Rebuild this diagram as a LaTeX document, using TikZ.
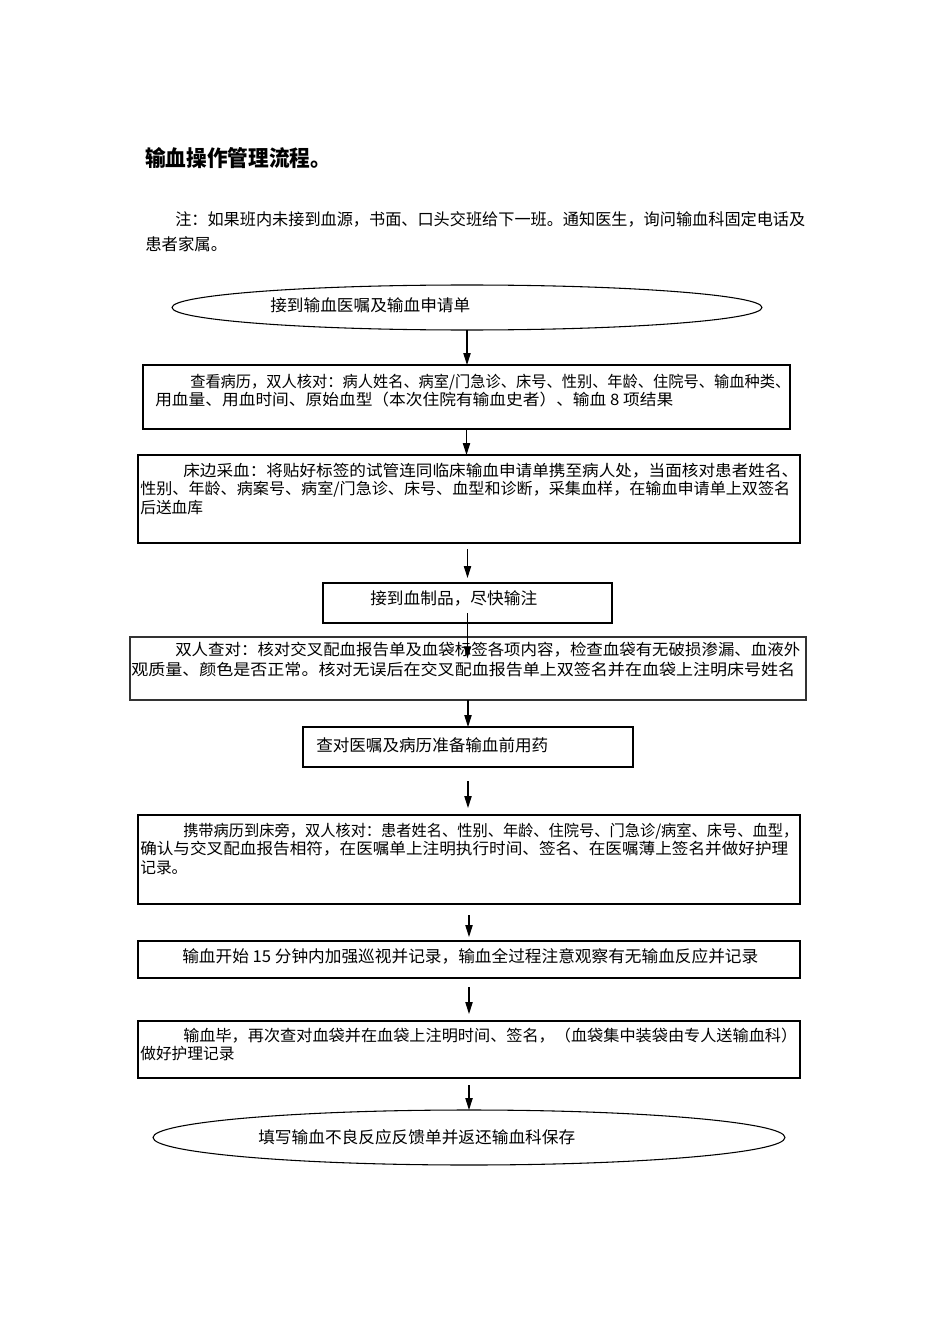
\documentclass[tikz,border=0pt]{standalone}
\usepackage{fontspec}
\usepackage{graphicx}
\setmainfont{Noto Sans CJK SC}
\usetikzlibrary{shapes.geometric,arrows.meta}
\newsavebox\lnbox
\newcommand\fitline[2]{\sbox\lnbox{#2}\scalebox{\fpeval{#1*0.75*65536/\number\wd\lnbox}}[1]{\usebox\lnbox}}
\begin{document}
\begin{tikzpicture}[x=0.75pt,y=-0.75pt,
  box/.style={draw, line width=0.8pt, inner sep=0, outer sep=0},
  ell/.style={ellipse, draw, line width=0.8pt, inner sep=0, outer sep=0},
  txt/.style={inner sep=0, anchor=base west, font=\fontsize{11.8pt}{13.9pt}\selectfont},
  stxt/.style={inner sep=0, anchor=base west, font=\fontsize{12.3pt}{14pt}\selectfont},
  arr/.style={-{Triangle[width=5.5pt,length=9pt]}, line width=0.8pt}]
\fill[white] (0,0) rectangle (950,1344);
\useasboundingbox (0,0) rectangle (950,1344);

% title and note
\node[inner sep=0, anchor=base west, font=\fontsize{16.5pt}{19pt}\selectfont\bfseries] (title) at (145,166.5) {\fitline{186}{输血操作管理流程。}};
\node[stxt] (note1) at (175,226) {\fitline{630}{注：如果班内未接到血源，书面、口头交班给下一班。通知医生，询问输血科固定电话及}};
\node[stxt] (note2) at (145,251) {患者家属。};

% start
\node[ell, minimum width=442.5pt, minimum height=33.75pt] (e1) at (467,307.5) {};
\node[stxt] (t1) at (270,311.5) {\fitline{200}{接到输血医嘱及输血申请单}};

% box 2
\node[box, minimum width=485.25pt, minimum height=48pt] (b2) at (466.5,397) {};
\node[txt] (t2) at (155,387) {\vtop{\hbox{\hspace*{26.25pt}\fitline{600}{查看病历，双人核对：病人姓名、病室/门急诊、床号、性别、年龄、住院号、输血种类、}}\hbox{\fitline{518}{用血量、用血时间、原始血型（本次住院有输血史者）、输血 8 项结果}}}};

% box 3
\node[box, minimum width=496.5pt, minimum height=66pt] (b3) at (469,499) {};
\node[txt] (t3) at (140,476) {\vtop{\hbox{\hspace*{32.25pt}\fitline{615}{床边采血：将贴好标签的试管连同临床输血申请单携至病人处，当面核对患者姓名、}}\hbox{\fitline{650}{性别、年龄、病案号、病室/门急诊、床号、血型和诊断，采集血样，在输血申请单上双签名}}\hbox{后送血库}}};

% box 4
\node[box, minimum width=216.75pt, minimum height=30pt] (b4) at (467.5,603) {};
\node[stxt] (t4) at (370,604) {\fitline{167}{接到血制品，尽快输注}};

% box 5
\node[box, line width=1.2pt, draw=black!80, minimum width=507pt, minimum height=47.25pt] (b5) at (468,668.5) {};
\node[txt] (t5) at (131,655) {\vtop{\baselineskip=15pt\hbox{\hspace*{33pt}\fitline{625}{双人查对：核对交叉配血报告单及血袋标签各项内容，检查血袋有无破损渗漏、血液外}}\hbox{\fitline{664}{观质量、颜色是否正常。核对无误后在交叉配血报告单上双签名并在血袋上注明床号姓名}}}};

% box 6
\node[box, minimum width=247.5pt, minimum height=30pt] (b6) at (468,747) {};
\node[stxt] (t6) at (316,751) {\fitline{232}{查对医嘱及病历准备输血前用药}};

% box 7
\node[box, minimum width=496.5pt, minimum height=66.75pt] (b7) at (469,859.5) {};
\node[txt] (t7) at (140,836) {\vtop{\hbox{\hspace*{32.25pt}\fitline{615}{携带病历到床旁，双人核对：患者姓名、性别、年龄、住院号、门急诊/病室、床号、血型，}}\hbox{\fitline{648}{确认与交叉配血报告相符，在医嘱单上注明执行时间、签名、在医嘱薄上签名并做好护理}}\hbox{记录。}}};

% box 8
\node[box, minimum width=496.5pt, minimum height=27.75pt] (b8) at (469,959.5) {};
\node[stxt] (t8) at (182,962) {\fitline{576}{输血开始 15 分钟内加强巡视并记录，输血全过程注意观察有无输血反应并记录}};

% box 9
\node[box, minimum width=496.5pt, minimum height=42.75pt] (b9) at (469,1049.5) {};
\node[txt] (t9) at (140,1041) {\vtop{\hbox{\hspace*{32.25pt}\fitline{614}{输血毕，再次查对血袋并在血袋上注明时间、签名，（血袋集中装袋由专人送输血科）}}\hbox{做好护理记录}}};

% end
\node[ell, minimum width=474pt, minimum height=41.25pt] (e2) at (469,1137.5) {};
\node[stxt] (t10) at (258,1143) {\fitline{317}{填写输血不良反应反馈单并返还输血科保存}};

% arrows
\draw[arr] (e1.south) -- (e1.south |- b2.north);
\draw[arr] (b2.south) -- (b2.south |- b3.north);
\draw[arr, shorten <=4.5pt, shorten >=3.75pt] (b4.north |- b3.south) -- (b4.north);
\draw[arr] ([yshift=7.5pt]b4.south) -- ([yshift=-16pt]b4.south |- b5.north);
\draw[arr] (b6.north |- b5.south) -- (b6.north);
\draw[arr, shorten <=10.5pt, shorten >=5.25pt] (b6.south) -- (b6.south |- b7.north);
\draw[arr, shorten <=8.25pt, shorten >=3pt] (b7.south) -- (b7.south |- b8.north);
\draw[arr, shorten <=6.75pt, shorten >=5.25pt] (b8.south) -- (b8.south |- b9.north);
\draw[arr, shorten <=5.25pt] (b9.south) -- (b9.south |- e2.north);
\end{tikzpicture}
\end{document}
